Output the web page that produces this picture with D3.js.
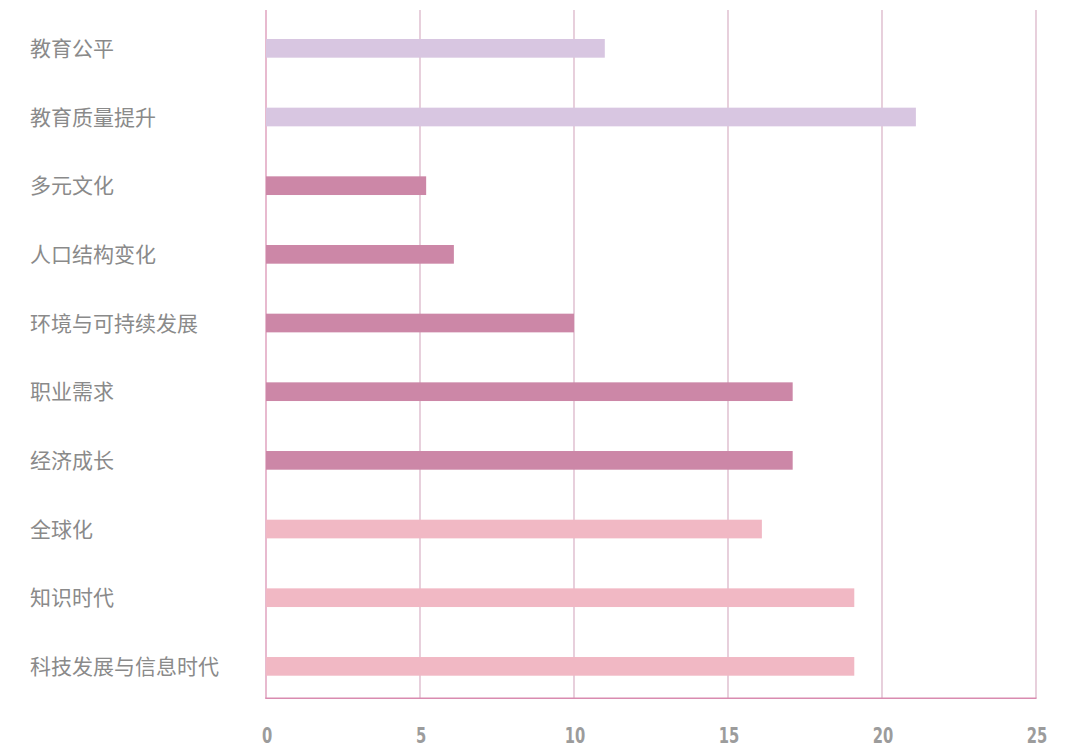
<!DOCTYPE html>
<html><head><meta charset="utf-8">
<script src="https://cdn.jsdelivr.net/npm/d3@7"></script>
<style>body{margin:0;background:#fff}</style>
</head><body>
<svg id="c" width="1071" height="749"></svg>
<script>
const categories = ["教育公平","教育质量提升","多元文化","人口结构变化","环境与可持续发展","职业需求","经济成长","全球化","知识时代","科技发展与信息时代"];
const values = [11, 21.1, 5.2, 6.1, 10, 17.1, 17.1, 16.1, 19.1, 19.1];
const groups = ["a","a","b","b","b","b","b","c","c","c"];
const tickValues = [0,5,10,15,20,25];
const colors = {a:"#d8c6e1", b:"#cc87a7", c:"#f1b8c4"};

const svg = d3.select("#c");
const x = d3.scaleLinear().domain([0,25]).range([266,1036]);
const y = d3.scaleBand().domain(categories).range([14,700.7]).paddingInner(0.728).paddingOuter(0.364);

// gridlines
svg.append("g").selectAll("line").data(tickValues).join("line")
  .attr("x1", d=>x(d)).attr("x2", d=>x(d)).attr("y1",10).attr("y2",698)
  .attr("stroke", d=> d===0 ? "#e2a9c3" : "#dbb6ca").attr("stroke-width", d=> d===0 ? 1.6 : 1.3);

// bars
svg.append("g").selectAll("rect").data(categories).join("rect")
  .attr("x", x(0)).attr("y", d=>y(d)).attr("height", y.bandwidth())
  .attr("width", (d,i)=>x(values[i])-x(0))
  .attr("fill", (d,i)=>colors[groups[i]]);

// bottom axis line
svg.append("line").attr("x1",x(0)-0.8).attr("x2",x(25)+0.6).attr("y1",698.3).attr("y2",698.3)
  .attr("stroke","#d98bb0").attr("stroke-width",1.6);

// tick labels (condensed look)
svg.append("g").selectAll("text").data(tickValues).join("text")
  .attr("transform", d=>`translate(${x(d)+1},743) scale(0.78,1)`)
  .attr("text-anchor","middle")
  .attr("fill","#9c9c9c").style("font-family","'DejaVu Sans Condensed','DejaVu Sans',sans-serif")
  .style("font-stretch","condensed").style("font-weight","bold")
  .style("font-size","21px").text(d=>d);

// category labels
svg.append("g").selectAll("text").data(categories).join("text")
  .attr("x",30).attr("y", d=>y(d)+y.bandwidth()/2).attr("dy","0.36em")
  .attr("fill","#8a8a8a").style("font-family","'Noto Sans CJK SC',sans-serif")
  .style("font-size","21px").text(d=>d);
</script>
</body></html>
